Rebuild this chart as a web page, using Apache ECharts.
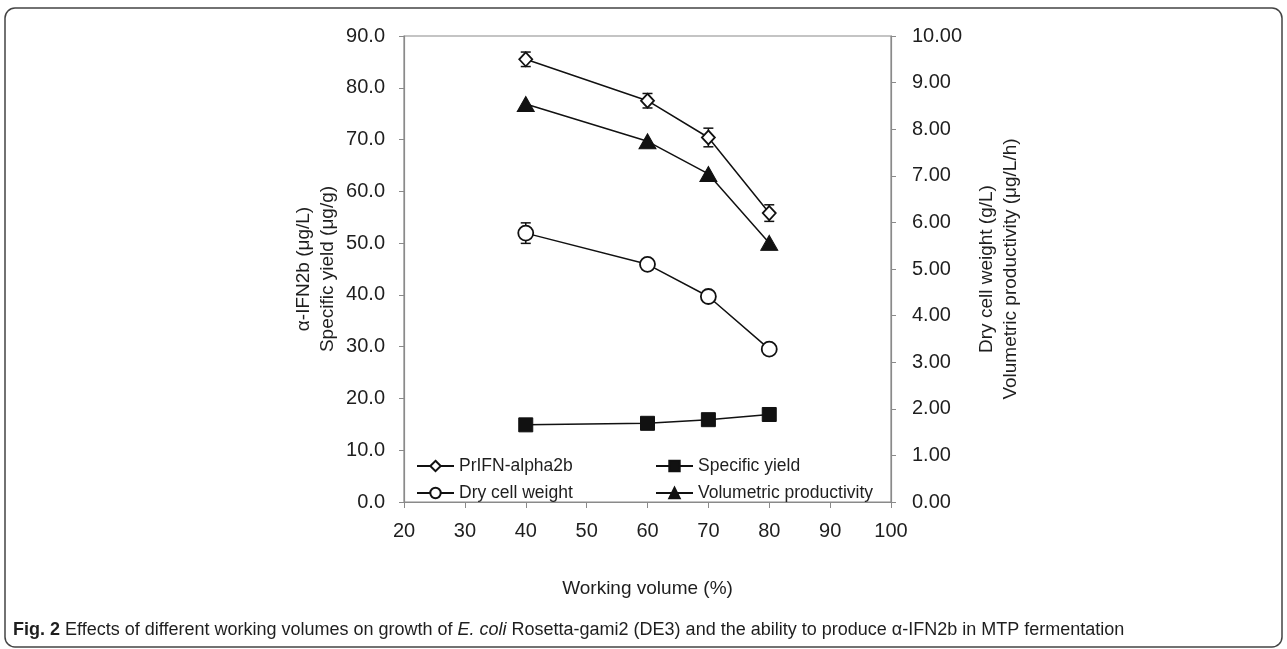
<!DOCTYPE html>
<html>
<head>
<meta charset="utf-8">
<script src="https://cdn.jsdelivr.net/npm/echarts@6/dist/echarts.min.js"></script>
<style>
html,body{margin:0;padding:0;background:#fff;}
#chart{width:1287px;height:649px;}
</style>
</head>
<body>
<div id="chart"></div>
<script>
const workingVolume = [40, 60, 70, 80];
const prifn = [85.5, 77.5, 70.4, 55.8];
const prifnErr = [1.4, 1.4, 1.8, 1.6];
const specificYield = [14.9, 15.2, 15.9, 16.9];
const dryCellWeight = [5.77, 5.10, 4.41, 3.28];
const dryCellWeightErr = [0.22, 0.08, 0.08, 0.08];
const volumetricProd = [8.54, 7.74, 7.04, 5.56];
const xTicks = [20, 30, 40, 50, 60, 70, 80, 90, 100];
const leftTicks = [0, 10, 20, 30, 40, 50, 60, 70, 80, 90];
const rightTicks = [0, 1, 2, 3, 4, 5, 6, 7, 8, 9, 10];

const FONT = '"Liberation Sans", Arial, sans-serif';
const TXT = '#1e1e1e';
const AX = '#8a8a8a';

function pairs(ys) { return workingVolume.map((x, i) => [x, ys[i]]); }
function errData(ys, es) { return workingVolume.map((x, i) => [x, ys[i] - es[i], ys[i] + es[i]]); }

function errRender(params, api) {
  const x = api.value(0);
  const p1 = api.coord([x, api.value(2)]);
  const p2 = api.coord([x, api.value(1)]);
  const w = 5;
  const st = { stroke: '#111', lineWidth: 1.5 };
  return {
    type: 'group',
    children: [
      { type: 'line', shape: { x1: p1[0], y1: p1[1], x2: p2[0], y2: p2[1] }, style: st },
      { type: 'line', shape: { x1: p1[0] - w, y1: p1[1], x2: p1[0] + w, y2: p1[1] }, style: st },
      { type: 'line', shape: { x1: p2[0] - w, y1: p2[1], x2: p2[0] + w, y2: p2[1] }, style: st }
    ]
  };
}

const lineBase = { type: 'line', lineStyle: { color: '#111', width: 1.5 }, z: 3, animation: false };
const legendText = { fontFamily: FONT, fontSize: 17.5, color: TXT };

const chart = echarts.init(document.getElementById('chart'), null, { renderer: 'canvas' });
chart.setOption({
  animation: false,
  backgroundColor: '#fff',
  textStyle: { fontFamily: FONT, color: TXT },
  title: {
    left: 8, top: 616,
    text: '{b|Fig. 2} Effects of different working volumes on growth of {i|E. coli} Rosetta-gami2 (DE3) and the ability to produce α-IFN2b in MTP fermentation',
    textStyle: {
      fontFamily: FONT, fontSize: 18, fontWeight: 'normal', color: TXT,
      rich: {
        b: { fontFamily: FONT, fontSize: 18, fontWeight: 'bold', color: TXT },
        i: { fontFamily: FONT, fontSize: 18, fontStyle: 'italic', color: TXT }
      }
    }
  },
  graphic: [{
    type: 'rect',
    shape: { x: 5, y: 8, width: 1277, height: 639, r: 10 },
    style: { fill: null, stroke: '#444', lineWidth: 1.5 },
    silent: true, z: -1
  }],
  grid: { left: 404, right: 396, top: 36, bottom: 147, show: true, borderColor: AX, borderWidth: 1.2, backgroundColor: 'transparent' },
  legend: [
    {
      left: 411, top: 452, orient: 'vertical', itemGap: 9, itemWidth: 37, itemHeight: 13,
      data: ['PrIFN-alpha2b', 'Dry cell weight'],
      textStyle: legendText
    },
    {
      left: 650, top: 452, orient: 'vertical', itemGap: 9, itemWidth: 37, itemHeight: 13,
      data: ['Specific yield', 'Volumetric productivity'],
      textStyle: legendText
    }
  ],
  xAxis: {
    type: 'value', min: xTicks[0], max: xTicks[xTicks.length - 1], interval: 10,
    name: 'Working volume (%)', nameLocation: 'middle', nameGap: 77,
    nameTextStyle: { fontFamily: FONT, fontSize: 19, color: TXT },
    axisLine: { show: true, lineStyle: { color: AX, width: 1.2 } },
    axisTick: { show: true, inside: false, length: 6, lineStyle: { color: AX } },
    axisLabel: { fontFamily: FONT, fontSize: 20, color: TXT, margin: 19 },
    splitLine: { show: false }
  },
  yAxis: [
    {
      type: 'value', min: leftTicks[0], max: leftTicks[leftTicks.length - 1], interval: 10,
      position: 'left',
      name: 'α-IFN2b (μg/L)\nSpecific yield (μg/g)', nameLocation: 'middle', nameGap: 64, nameRotate: 90,
      nameTextStyle: { fontFamily: FONT, fontSize: 19, color: TXT, lineHeight: 24 },
      axisLine: { show: true, lineStyle: { color: AX, width: 1.2 } },
      axisTick: { show: true, inside: false, length: 5, lineStyle: { color: AX } },
      axisLabel: { fontFamily: FONT, fontSize: 20, color: TXT, margin: 19, formatter: v => v.toFixed(1) },
      splitLine: { show: false }
    },
    {
      type: 'value', min: rightTicks[0], max: rightTicks[rightTicks.length - 1], interval: 1,
      position: 'right',
      name: 'Dry cell weight (g/L)\nVolumetric productivity (μg/L/h)', nameLocation: 'middle', nameGap: 84, nameRotate: 90,
      nameTextStyle: { fontFamily: FONT, fontSize: 19, color: TXT, lineHeight: 24 },
      axisLine: { show: true, lineStyle: { color: AX, width: 1.2 } },
      axisTick: { show: true, inside: false, length: 5, lineStyle: { color: AX } },
      axisLabel: { fontFamily: FONT, fontSize: 20, color: TXT, margin: 21, formatter: v => v.toFixed(2) },
      splitLine: { show: false }
    }
  ],
  series: [
    {
      type: 'custom', name: 'errPrifn', yAxisIndex: 0, renderItem: errRender, z: 2,
      data: errData(prifn, prifnErr), encode: { x: 0, y: [1, 2] }, silent: true
    },
    {
      type: 'custom', name: 'errDcw', yAxisIndex: 1, renderItem: errRender, z: 2,
      data: errData(dryCellWeight, dryCellWeightErr), encode: { x: 0, y: [1, 2] }, silent: true
    },
    Object.assign({}, lineBase, {
      name: 'PrIFN-alpha2b', yAxisIndex: 0, data: pairs(prifn),
      symbol: 'diamond', symbolSize: [13, 14],
      itemStyle: { color: '#fff', borderColor: '#111', borderWidth: 1.8 }
    }),
    Object.assign({}, lineBase, {
      name: 'Specific yield', yAxisIndex: 0, data: pairs(specificYield),
      symbol: 'rect', symbolSize: 14,
      itemStyle: { color: '#111', borderColor: '#111', borderWidth: 1 }
    }),
    Object.assign({}, lineBase, {
      name: 'Dry cell weight', yAxisIndex: 1, data: pairs(dryCellWeight),
      symbol: 'circle', symbolSize: 15,
      itemStyle: { color: '#fff', borderColor: '#111', borderWidth: 1.8 }
    }),
    Object.assign({}, lineBase, {
      name: 'Volumetric productivity', yAxisIndex: 1, data: pairs(volumetricProd),
      symbol: 'triangle', symbolSize: [17, 15],
      itemStyle: { color: '#111', borderColor: '#111', borderWidth: 1 }
    })
  ]
});
</script>
</body>
</html>
